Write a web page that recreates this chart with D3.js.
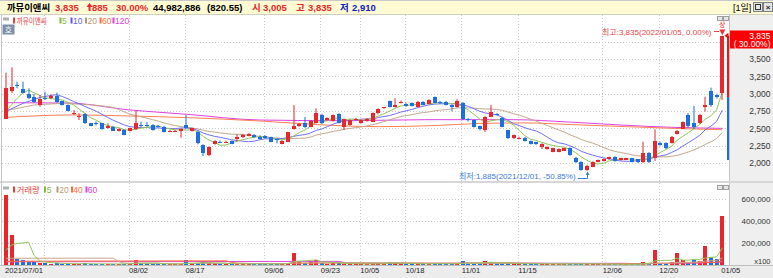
<!DOCTYPE html>
<html><head><meta charset="utf-8">
<script src="https://cdn.jsdelivr.net/npm/d3@7"></script>
<style>
html,body{margin:0;padding:0;background:#fff;overflow:hidden}
svg{display:block}
text{font-family:"Liberation Sans","Noto Sans CJK KR",sans-serif}
</style></head><body>
<svg id="c" width="773" height="278"></svg>
<script>
// ---------------- DATA ----------------
const dates = [
"2021/07/01","2021/07/02","2021/07/05","2021/07/06","2021/07/07","2021/07/08","2021/07/09","2021/07/12","2021/07/13","2021/07/14","2021/07/15","2021/07/16","2021/07/19","2021/07/20","2021/07/21","2021/07/22","2021/07/23","2021/07/26","2021/07/27","2021/07/28","2021/07/29","2021/07/30",
"2021/08/02","2021/08/03","2021/08/04","2021/08/05","2021/08/06","2021/08/09","2021/08/10","2021/08/11","2021/08/12","2021/08/13","2021/08/17","2021/08/18","2021/08/19","2021/08/20","2021/08/23","2021/08/24","2021/08/25","2021/08/26","2021/08/27","2021/08/30","2021/08/31",
"2021/09/01","2021/09/02","2021/09/03","2021/09/06","2021/09/07","2021/09/08","2021/09/09","2021/09/10","2021/09/13","2021/09/14","2021/09/15","2021/09/16","2021/09/17","2021/09/23","2021/09/24","2021/09/27","2021/09/28","2021/09/29","2021/09/30",
"2021/10/01","2021/10/05","2021/10/06","2021/10/07","2021/10/08","2021/10/12","2021/10/13","2021/10/14","2021/10/15","2021/10/18","2021/10/19","2021/10/20","2021/10/21","2021/10/22","2021/10/25","2021/10/26","2021/10/27","2021/10/28","2021/10/29",
"2021/11/01","2021/11/02","2021/11/03","2021/11/04","2021/11/05","2021/11/08","2021/11/09","2021/11/10","2021/11/11","2021/11/12","2021/11/15","2021/11/16","2021/11/17","2021/11/18","2021/11/19","2021/11/22","2021/11/23","2021/11/24","2021/11/25","2021/11/26","2021/11/29","2021/11/30",
"2021/12/01","2021/12/02","2021/12/03","2021/12/06","2021/12/07","2021/12/08","2021/12/09","2021/12/10","2021/12/13","2021/12/14","2021/12/15","2021/12/16","2021/12/17","2021/12/20","2021/12/21","2021/12/22","2021/12/23","2021/12/24","2021/12/27","2021/12/28","2021/12/29","2021/12/30",
"2022/01/03","2022/01/04","2022/01/05"];

const open = [2635,3039,3120,3063,2990,2957,2837,2940,2933,2967, 2895,2837,2720,2660,2703,2573,2580,2573,2510,2524,
 2466,2476,2466,2486,2555,2550,2548,2535,2524,2460, 2462,2462,2548,2466,2452,2260,2115,2278,2310,2305,
 2317,2342,2370,2394,2404,2380,2395,2370,2345,2278, 2307,2490,2530,2573,2524,2582,2693,2620,2610,2703,
 2515,2548,2630,2580,2606,2596,2717,2790,2895,2812, 2880,2851,2861,2812,2885,2851,2948,2885,2885,2837,
 2812,2865,2635,2620,2534,2476,2668,2710,2654,2476, 2356,2360,2365,2317,2300,2235,2198,2163,2163,2177,
 2212,2068,2019,1900,1947,2019,2029,2053,2091,2043, 2045,2068,2053,2010,2149,2068,2293,2285,2285,2418,
 2495,2690,2573,2573,2804,3043,2980,3005];
const high = [3303,3381,3173,3173,3078,2995,2981,3029,2990,3015, 2900,2845,2765,2717,2717,2580,2600,2580,2573,2534,
 2500,2490,2510,2755,2596,2590,2560,2548,2534,2480, 2480,2500,2693,2510,2466,2270,2240,2330,2325,2325,
 2325,2414,2420,2430,2418,2400,2400,2380,2356,2330, 2450,2837,2580,2664,2620,2786,2710,2660,2700,2720,
 2640,2630,2650,2630,2650,2730,2790,2810,2900,2934, 2900,2870,2875,2895,2895,2920,2960,2895,2895,2845,
 2920,2880,2650,2630,2540,2680,2837,2720,2664,2480, 2410,2380,2375,2325,2305,2285,2240,2220,2210,2220,
 2225,2090,2025,1975,2025,2050,2065,2090,2100,2075, 2075,2075,2060,2307,2160,2486,2310,2300,2390,2475,
 2600,2720,2823,2710,2957,3087,3000,3835];
const low = [2635,3010,3078,3006,2920,2870,2812,2909,2920,2870, 2830,2745,2693,2620,2563,2530,2540,2480,2495,2460,
 2455,2400,2455,2476,2515,2520,2466,2510,2440,2445, 2450,2365,2490,2455,2270,2100,2100,2265,2290,2290,
 2270,2307,2360,2385,2360,2340,2350,2300,2285,2270, 2300,2480,2520,2505,2515,2570,2560,2610,2600,2570,
 2476,2540,2615,2570,2595,2590,2700,2780,2800,2800, 2860,2810,2815,2805,2830,2845,2860,2850,2830,2745,
 2800,2620,2600,2510,2470,2447,2660,2690,2515,2345, 2345,2340,2310,2265,2260,2200,2190,2155,2155,2170,
 2105,2000,1890,1885,1940,2010,2020,2045,2020,2035, 2040,2010,2000,2000,2000,2030,2250,2200,2280,2410,
 2490,2510,2490,2560,2740,2810,2930,2910];
const close = [3087,3101,3110,3015,2942,2885,2919,2933,2967,2885, 2837,2755,2726,2678,2573,2538,2573,2490,2534,2466,
 2490,2404,2500,2573,2548,2545,2476,2530,2452,2466, 2468,2486,2500,2500,2285,2140,2227,2317,2305,2310,
 2278,2380,2404,2418,2370,2345,2365,2307,2336,2317, 2443,2534,2563,2515,2606,2717,2573,2645,2693,2582,
 2630,2620,2635,2620,2635,2717,2775,2804,2812,2837, 2885,2822,2822,2885,2837,2909,2870,2861,2837,2812,
 2895,2635,2630,2524,2486,2668,2740,2703,2524,2356, 2404,2365,2317,2270,2270,2270,2235,2212,2202,2212,
 2115,2010,1900,1961,2019,2043,2058,2082,2029,2068, 2068,2019,2010,2149,2019,2322,2260,2220,2380,2466,
 2590,2527,2515,2693,2837,2837,2950,3835];
// volume in units of 100 shares (axis "x100")
const volume = [640000,273000,52000,45000,30000,30000,21000,15000,12000,14000, 12000,13000,10000,9000,14000,9000,8000,11000,9000,10000,
 8000,11000,10000,45000,15000,10000,12000,8000,10000,8000, 7000,9000,45000,10000,20000,25000,22000,15000,9000,8000,
 9000,12000,10000,9000,8000,9000,9000,10000,8000,9000, 22000,106000,30000,18000,33000,45000,20000,12000,15000,14000,
 12000,10000,8000,9000,8000,12000,14000,10000,30000,18000, 12000,10000,9000,12000,10000,12000,18000,10000,9000,9000,
 16000,33000,14000,15000,12000,33000,28000,12000,13000,15000, 12000,10000,11000,12000,8000,9000,8000,9000,7000,8000,
 10000,9000,12000,10000,9000,7000,6000,7000,8000,6000, 5000,6000,7000,30000,12000,136000,21000,15000,30000,112000,
 45000,21000,45000,33000,173000,70000,52000,445000];

const ma5Lead  = [[0,2745],[1,2840],[2,2935],[3,3010]];
const ma10Lead = [[0,2745],[3,2860],[6,2945],[8,2975]];
const ma20Lead = [[0,2755],[5,2837],[10,2861],[15,2840],[18,2815]];
const ma60Pts  = [[0,2659],[12,2693],[22,2678],[32,2655],[45,2606],[56,2550],[66,2524],[76,2540],[84,2570],[92,2578],[100,2555],[110,2524],[120,2495],[127,2480]];
const ma120Pts = [[0,2870],[11,2865],[22,2765],[32,2703],[45,2620],[60,2610],[75,2625],[90,2625],[100,2590],[109,2548],[118,2515],[127,2500]];
const volMa5Lead  = [[0,136000],[1,182000],[2,197000],[3,200000]];
const volMa20Lead = [[0,61000],[18,62000]];
const volMa40Lead = [[0,34000],[38,38000]];
const volMa60Lead = [[0,29000],[58,33000]];

const priceTicks = [2000,2250,2500,2750,3000,3250,3500];
const priceGrid  = [2000,2250,2500,2750,3000,3250,3500,3750];
const volumeTicks = [200000,400000,600000];
const labelDates = ["2021/07/01","2021/08/02","2021/08/17","2021/09/06","2021/09/23","2021/10/05","2021/10/18","2021/11/01","2021/11/15","2021/12/06","2021/12/20","2022/01/05"];
const gridDates  = ["2021/07/12","2021/08/02","2021/08/17","2021/09/06","2021/09/23","2021/10/05","2021/10/18","2021/11/01","2021/11/15","2021/12/06","2021/12/20"];

// ---------------- DRAW ----------------
const W = 773, H = 278;
const RED = "#e8262c", BLUE = "#1b6fe2";
const svg = d3.select("#c");
const x  = d3.scalePoint().domain(dates).range([6, 722.3]);
const y  = d3.scaleLinear().domain([2000, 3500]).range([163, 59]);
const yv = d3.scaleLinear().domain([0, 600000]).range([265, 199]);
const data = dates.map((d,i)=>({d, i, o:open[i], h:high[i], l:low[i], c:close[i], v:volume[i]}));
const isUp = d => d.c >= d.o;
const px = d => Math.round(x(d.d));

svg.append("rect").attr("width",W).attr("height",H).attr("fill","#fff");
const defs = svg.append("defs");
defs.append("clipPath").attr("id","clipP").append("rect").attr("x",2).attr("y",15).attr("width",725).attr("height",166);
defs.append("clipPath").attr("id","clipV").append("rect").attr("x",2).attr("y",183).attr("width",725).attr("height",82);

// title bar
svg.append("rect").attr("x",0).attr("y",0).attr("width",W).attr("height",14).attr("fill","#fffbd2");
svg.append("line").attr("x1",0).attr("x2",W).attr("y1",0.5).attr("y2",0.5).attr("stroke","#c8c8c8");
svg.append("line").attr("x1",0).attr("x2",W).attr("y1",14.5).attr("y2",14.5).attr("stroke","#cfcfc0");
const title = [
  {t:"까뮤이앤씨", x:7, c:"#000", len:43},
  {t:"3,835", x:55, c:RED}, {t:"885", x:92, c:RED}, {t:"30.00%", x:116, c:RED},
  {t:"44,982,886", x:153, c:"#000"}, {t:"(820.55)", x:207, c:"#000"},
  {t:"시", x:252, c:RED}, {t:"3,005", x:263, c:RED},
  {t:"고", x:296, c:RED}, {t:"3,835", x:308, c:RED},
  {t:"저", x:340, c:"#1020c0"}, {t:"2,910", x:352, c:"#1020c0"}];
title.forEach(o=>{
  const t = svg.append("text").attr("x",o.x).attr("y",11).attr("fill",o.c)
    .attr("font-size",9.5).attr("font-weight","bold").text(o.t);
  if (o.len) t.attr("textLength",o.len).attr("lengthAdjust","spacingAndGlyphs");
});
// up-limit arrow in the title
svg.append("polygon").attr("points","89.5,3 86.5,7 88.5,7 88.5,11 90.5,11 90.5,7 92.5,7").attr("fill",RED);
svg.append("text").attr("x",733).attr("y",10.5).attr("font-size",9).attr("fill","#000").text("[1일]");
[753,763].forEach((bx,k)=>{
  svg.append("rect").attr("x",bx+0.5).attr("y",2.5).attr("width",9).attr("height",9).attr("fill","#e4e4e4").attr("stroke","#808080");
  if(k===0) svg.append("rect").attr("x",bx+2.5).attr("y",4.5).attr("width",5).attr("height",5).attr("fill","none").attr("stroke","#333");
  else svg.append("text").attr("x",bx+5).attr("y",10).attr("text-anchor","middle").attr("font-size",8).attr("font-weight","bold").attr("fill","#222").text("×");
});

// right axis panel & date row
svg.append("rect").attr("x",729).attr("y",15).attr("width",44).attr("height",251).attr("fill","#efefef");
svg.append("line").attr("x1",729.5).attr("x2",729.5).attr("y1",15).attr("y2",266).attr("stroke","#c4c4c4");
svg.append("rect").attr("x",0).attr("y",266).attr("width",W).attr("height",12).attr("fill","#ececec");
svg.append("line").attr("x1",0).attr("x2",W).attr("y1",265.5).attr("y2",265.5).attr("stroke","#bdbdbd");
svg.append("rect").attr("x",0).attr("y",181).attr("width",W).attr("height",2).attr("fill","#d6d6d6");
svg.append("line").attr("x1",1.5).attr("x2",1.5).attr("y1",15).attr("y2",266).attr("stroke","#c4c4c4");

// grids
const grid = svg.append("g").attr("stroke","#c9c9c9").attr("stroke-dasharray","1,2");
priceGrid.forEach(p=>{ const yy=Math.round(y(p))+0.5;
  grid.append("line").attr("x1",2).attr("x2",727).attr("y1",yy).attr("y2",yy); });
volumeTicks.forEach(v=>{ const yy=Math.round(yv(v))+0.5;
  grid.append("line").attr("x1",2).attr("x2",727).attr("y1",yy).attr("y2",yy); });
gridDates.forEach(d=>{ const xx=Math.round(x(d)-1.5)+0.5;
  grid.append("line").attr("x1",xx).attr("x2",xx).attr("y1",15).attr("y2",181);
  grid.append("line").attr("x1",xx).attr("x2",xx).attr("y1",183).attr("y2",265); });

// moving averages
function movAvg(arr, n, lead){
  const pts = lead.map(p=>[p[0],p[1]]);
  for(let i=n-1;i<arr.length;i++) pts.push([i, d3.mean(arr.slice(i-n+1,i+1))]);
  return pts;
}
const lineP = d3.line().x(p=>x(dates[p[0]])).y(p=>y(p[1]));
const lineS = d3.line().x(p=>x(dates[p[0]])).y(p=>y(p[1])).curve(d3.curveMonotoneX);
const lineV = d3.line().x(p=>x(dates[p[0]])).y(p=>yv(p[1]));
const gP = svg.append("g").attr("clip-path","url(#clipP)");
const maDefs = [
  {pts:ma120Pts, c:"#e040e0", gen:lineS},
  {pts:ma60Pts, c:"#ff7f50", gen:lineS},
  {pts:movAvg(close,20,ma20Lead), c:"#c4a88c", gen:lineP},
  {pts:movAvg(close,10,ma10Lead), c:"#7070f4", gen:lineP},
  {pts:movAvg(close,5,ma5Lead), c:"#92c45a", gen:lineP}];
maDefs.forEach(m=> gP.append("path").attr("d",m.gen(m.pts)).attr("fill","none").attr("stroke",m.c).attr("stroke-width",1));

// candles
gP.selectAll(".wick").data(data).join("rect")
  .attr("x",d=>px(d)-0.5).attr("width",1)
  .attr("y",d=>y(d.h)).attr("height",d=>Math.max(1,y(d.l)-y(d.h)))
  .attr("fill",d=>isUp(d)?RED:BLUE);
gP.selectAll(".body").data(data).join("rect")
  .attr("x",d=>px(d)-2).attr("width",4)
  .attr("y",d=>Math.round(y(Math.max(d.o,d.c))))
  .attr("height",d=>Math.max(1,Math.round(y(Math.min(d.o,d.c)))-Math.round(y(Math.max(d.o,d.c)))))
  .attr("fill",d=>isUp(d)?RED:BLUE);

// volume
const gV = svg.append("g").attr("clip-path","url(#clipV)");
gV.selectAll(".vb").data(data).join("rect")
  .attr("x",d=>px(d)-2).attr("width",4)
  .attr("y",d=>Math.round(yv(d.v))).attr("height",d=>265-Math.round(yv(d.v)))
  .attr("fill",d=>isUp(d)?RED:BLUE);
[
  {pts:movAvg(volume,60,volMa60Lead), c:"#e040e0"},
  {pts:movAvg(volume,40,volMa40Lead), c:"#ff6a3a"},
  {pts:movAvg(volume,20,volMa20Lead), c:"#c4a88c"},
  {pts:movAvg(volume,5,volMa5Lead), c:"#92c45a"}
].forEach(m=> gV.append("path").attr("d",lineV(m.pts)).attr("fill","none").attr("stroke",m.c).attr("stroke-width",1));

// legends
function legend(items, yb){
  svg.append("rect").attr("x",3).attr("y",yb-6).attr("width",6).attr("height",3).attr("fill","#b0b0b0");
  items.forEach(o=>{
    svg.append("rect").attr("x",o.mk).attr("y",yb-6).attr("width",2).attr("height",6).attr("fill",o.c);
    const t = svg.append("text").attr("x",o.tx).attr("y",yb).attr("font-size",8.5).attr("fill",o.c).text(o.t);
    if(o.len) t.attr("textLength",o.len).attr("lengthAdjust","spacingAndGlyphs");
  });
}
legend([{mk:13,tx:16.7,t:"까뮤이앤씨",c:"#ee3b3b",len:30},{mk:59.5,tx:62,t:"5",c:"#86b84a"},
  {mk:70.5,tx:73,t:"10",c:"#5b5bf0"},{mk:85,tx:87.5,t:"20",c:"#b8987a"},
  {mk:99.5,tx:102,t:"60",c:"#ff6f40"},{mk:112.5,tx:115,t:"120",c:"#e040e0"}], 23.5);
legend([{mk:13,tx:16.7,t:"거래량",c:"#ee3b3b",len:23},{mk:44,tx:46.7,t:"5",c:"#86b84a"},
  {mk:56.5,tx:59.3,t:"20",c:"#b8987a"},{mk:71,tx:73.3,t:"40",c:"#ff6f40"},
  {mk:85.5,tx:87.7,t:"60",c:"#e040e0"}], 192.5);
svg.append("rect").attr("x",2.5).attr("y",24.5).attr("width",12).attr("height",10).attr("fill","#7c90a8");
svg.append("text").attr("x",8.5).attr("y",32.5).attr("text-anchor","middle").attr("font-size",8).attr("fill","#fff").text("호");
[16.5,185.5].forEach(yy=>[717.5,723.5].forEach(xx=>
  svg.append("rect").attr("x",xx).attr("y",yy).attr("width",5).attr("height",4).attr("fill","#e6e6e6").attr("stroke","#a0a0a0")));

// price range bar at the axis edge
svg.append("rect").attr("x",727).attr("width",2).attr("y",y(3835)).attr("height",y(2950)-y(3835)).attr("fill","#ff1010");
svg.append("rect").attr("x",727).attr("width",2).attr("y",y(2950)).attr("height",y(2043)-y(2950)).attr("fill","#1b6fe2");

// axes
const ax = svg.append("g").attr("transform","translate(770.5,0)")
  .call(d3.axisLeft(y).tickValues(priceTicks).tickFormat(d3.format(",")).tickSize(0).tickPadding(0));
ax.select(".domain").remove();
ax.selectAll("text").attr("font-size",8.5).attr("fill","#333").attr("font-family",null);
const axv = svg.append("g").attr("transform","translate(770.5,0)")
  .call(d3.axisLeft(yv).tickValues(volumeTicks).tickFormat(d3.format(",")).tickSize(0).tickPadding(0));
axv.select(".domain").remove();
axv.selectAll("text").attr("font-size",8).attr("fill","#333").attr("font-family",null);
svg.append("text").attr("x",770.5).attr("y",264).attr("text-anchor","end").attr("font-size",7.5).attr("fill","#333").text("x100");
const axd = svg.append("g").attr("transform","translate(0,268)")
  .call(d3.axisBottom(x).tickValues(labelDates).tickSize(0).tickPadding(0)
    .tickFormat((d,i)=> i===0 ? d : d.slice(5)));
axd.select(".domain").remove();
axd.selectAll("text").attr("text-anchor","start").attr("dx",-1.5).attr("dy","0.62em")
  .attr("font-size",7.6).attr("fill","#222").attr("font-family",null);

// current price box
svg.append("rect").attr("x",730).attr("y",30.5).attr("width",43).attr("height",18).attr("fill","#ff0000");
svg.append("polygon").attr("points",`724.5,${y(3835)} 728.5,${y(3835)-3} 728.5,${y(3835)+3}`).attr("fill","#ff0000");
svg.append("text").attr("x",770.5).attr("y",38.8).attr("text-anchor","end").attr("font-size",8.5).attr("fill","#fff").text(d3.format(",")(close[127]));
svg.append("text").attr("x",770.5).attr("y",47.3).attr("text-anchor","end").attr("font-size",8.5).attr("fill","#fff").text("( 30.00%)");

// high / low annotations
const hiI = d3.maxIndex(high), loI = d3.minIndex(low);
svg.append("text").attr("x",602).attr("y",34.5).attr("font-size",8).attr("fill","#ee4646")
  .text(`최고:${d3.format(",")(high[hiI])}(${dates[hiI]}, 0.00%)`);
svg.append("line").attr("x1",714).attr("x2",719).attr("y1",31.5).attr("y2",31.5).attr("stroke","#ee4646");
svg.append("text").attr("x",x(dates[hiI])).attr("y",27).attr("text-anchor","middle").attr("font-size",7).attr("fill","#ee3030").text("상");
svg.append("polygon").attr("points",`${x(dates[hiI])-3},29.5 ${x(dates[hiI])+3},29.5 ${x(dates[hiI])},${y(high[hiI])-0.5}`).attr("fill","#ee3030");
svg.append("text").attr("x",459).attr("y",178.8).attr("font-size",8).attr("fill","#3a7ad8")
  .text(`최저:${d3.format(",")(low[loI])}(${dates[loI]}, -50.85%)`);
const lx = Math.round(x(dates[loI]))+0.5;
svg.append("path").attr("d",`M578,178.5 H${lx} V${y(low[loI])+1.5}`).attr("fill","none").attr("stroke","#3a7ad8");
svg.append("polygon").attr("points",`${lx-2},${y(low[loI])+4} ${lx+2},${y(low[loI])+4} ${lx},${y(low[loI])+0.5}`).attr("fill","#3a7ad8");
</script>
</body></html>
